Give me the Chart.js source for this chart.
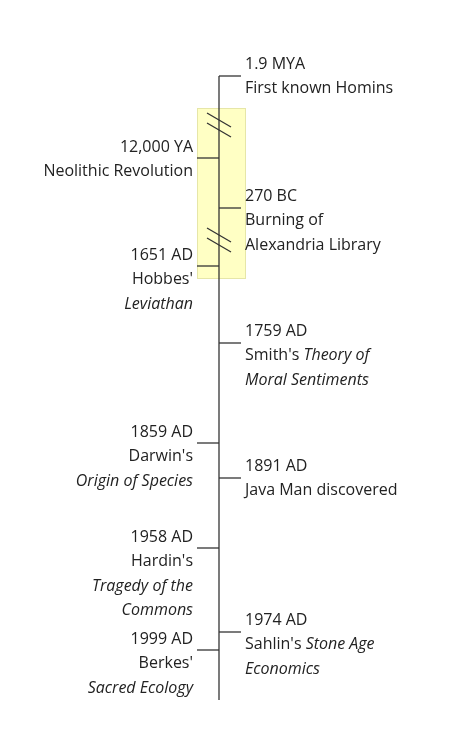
<!DOCTYPE html>
<html><head><meta charset="utf-8">
<script src="https://cdn.jsdelivr.net/npm/chart.js@4"></script>
<style>html,body{margin:0;padding:0;background:#fff}#w{width:450px;height:750px}</style>
</head><body><div id="w"><canvas id="c"></canvas></div>
<script>
// timeline positions (vertical position along the axis)
const rightPos = [76, 208, 343, 478, 632];
const rightLabels = [
  ["1.9 MYA", "First known Homins"],
  ["270 BC", "Burning of", "Alexandria Library"],
  ["1759 AD", "Smith's *Theory of*", "*Moral Sentiments*"],
  ["1891 AD", "Java Man discovered"],
  ["1974 AD", "Sahlin's *Stone Age*", "*Economics*"]
];
const leftPos = [158, 266, 443, 548, 650];
const leftLabels = [
  ["12,000 YA", "Neolithic Revolution"],
  ["1651 AD", "Hobbes'", "*Leviathan*"],
  ["1859 AD", "Darwin's", "*Origin of Species*"],
  ["1958 AD", "Hardin's", "*Tragedy of the*", "*Commons*"],
  ["1999 AD", "Berkes'", "*Sacred Ecology*"]
];
const axisStart = 76, axisEnd = 700;
const breakPos = [125, 240];
const highlightRange = [108, 278];

const FONT = "'Open Sans', Lato, sans-serif";
const FS = 16;
function segs(line){ return line.split('*').map((t,i)=>[t, i%2===1]).filter(s=>s[0].length); }
function lineWidth(ctx,line){ let w=0; for(const [t,it] of segs(line)){ ctx.font=(it?'italic ':'')+FS+'px '+FONT; w+=ctx.measureText(t).width;} return w; }
function drawLine(ctx,line,x,y){ for(const [t,it] of segs(line)){ ctx.font=(it?'italic ':'')+FS+'px '+FONT; ctx.fillText(t,x,y); x+=ctx.measureText(t).width;} }

const timeline = {
  id:'timeline',
  beforeDatasetsDraw(chart){
    const ctx=chart.ctx, xs=chart.scales.x, ys=chart.scales.y;
    const X=xs.getPixelForValue(0);
    ctx.save();
    const h0=ys.getPixelForValue(highlightRange[0]), h1=ys.getPixelForValue(highlightRange[1]);
    ctx.fillStyle='#ffffc4'; ctx.strokeStyle='#e6e6a8'; ctx.lineWidth=1;
    ctx.fillRect(X-22,h0,48,h1-h0); ctx.strokeRect(X-22+0.5,h0+0.5,48,h1-h0);
    ctx.strokeStyle='#333'; ctx.lineWidth=1.3;
    ctx.beginPath(); ctx.moveTo(X,ys.getPixelForValue(axisStart)); ctx.lineTo(X,ys.getPixelForValue(axisEnd)); ctx.stroke();
    for(const b of breakPos){ const y=ys.getPixelForValue(b);
      for(const d of [-5,5]){ ctx.beginPath(); ctx.moveTo(X-12,y+d-7); ctx.lineTo(X+12,y+d+7); ctx.stroke(); } }
    ctx.fillStyle='#222'; ctx.textBaseline='middle'; ctx.textAlign='left';
    rightPos.forEach((p,i)=>{ const y=ys.getPixelForValue(p);
      ctx.beginPath(); ctx.moveTo(X,y); ctx.lineTo(X+22,y); ctx.stroke();
      rightLabels[i].forEach((l,k)=>drawLine(ctx,l,X+26,y-12+k*24.5)); });
    leftPos.forEach((p,i)=>{ const y=ys.getPixelForValue(p);
      ctx.beginPath(); ctx.moveTo(X-22,y); ctx.lineTo(X,y); ctx.stroke();
      leftLabels[i].forEach((l,k)=>{ const w=lineWidth(ctx,l); drawLine(ctx,l,X-26-w,y-11+k*24.5); }); });
    ctx.restore();
  }
};

new Chart(document.getElementById('c'),{
  type:'scatter',
  data:{datasets:[{data:rightPos.map(p=>({x:0,y:p})).concat(leftPos.map(p=>({x:0,y:p}))),pointRadius:0}]},
  options:{responsive:true,maintainAspectRatio:false,animation:false,
    layout:{padding:0},
    plugins:{legend:{display:false},tooltip:{enabled:false}},
    scales:{x:{type:'linear',min:-219,max:231,display:false},
            y:{type:'linear',min:0,max:750,reverse:true,display:false}}},
  plugins:[timeline]
});
</script></body></html>
